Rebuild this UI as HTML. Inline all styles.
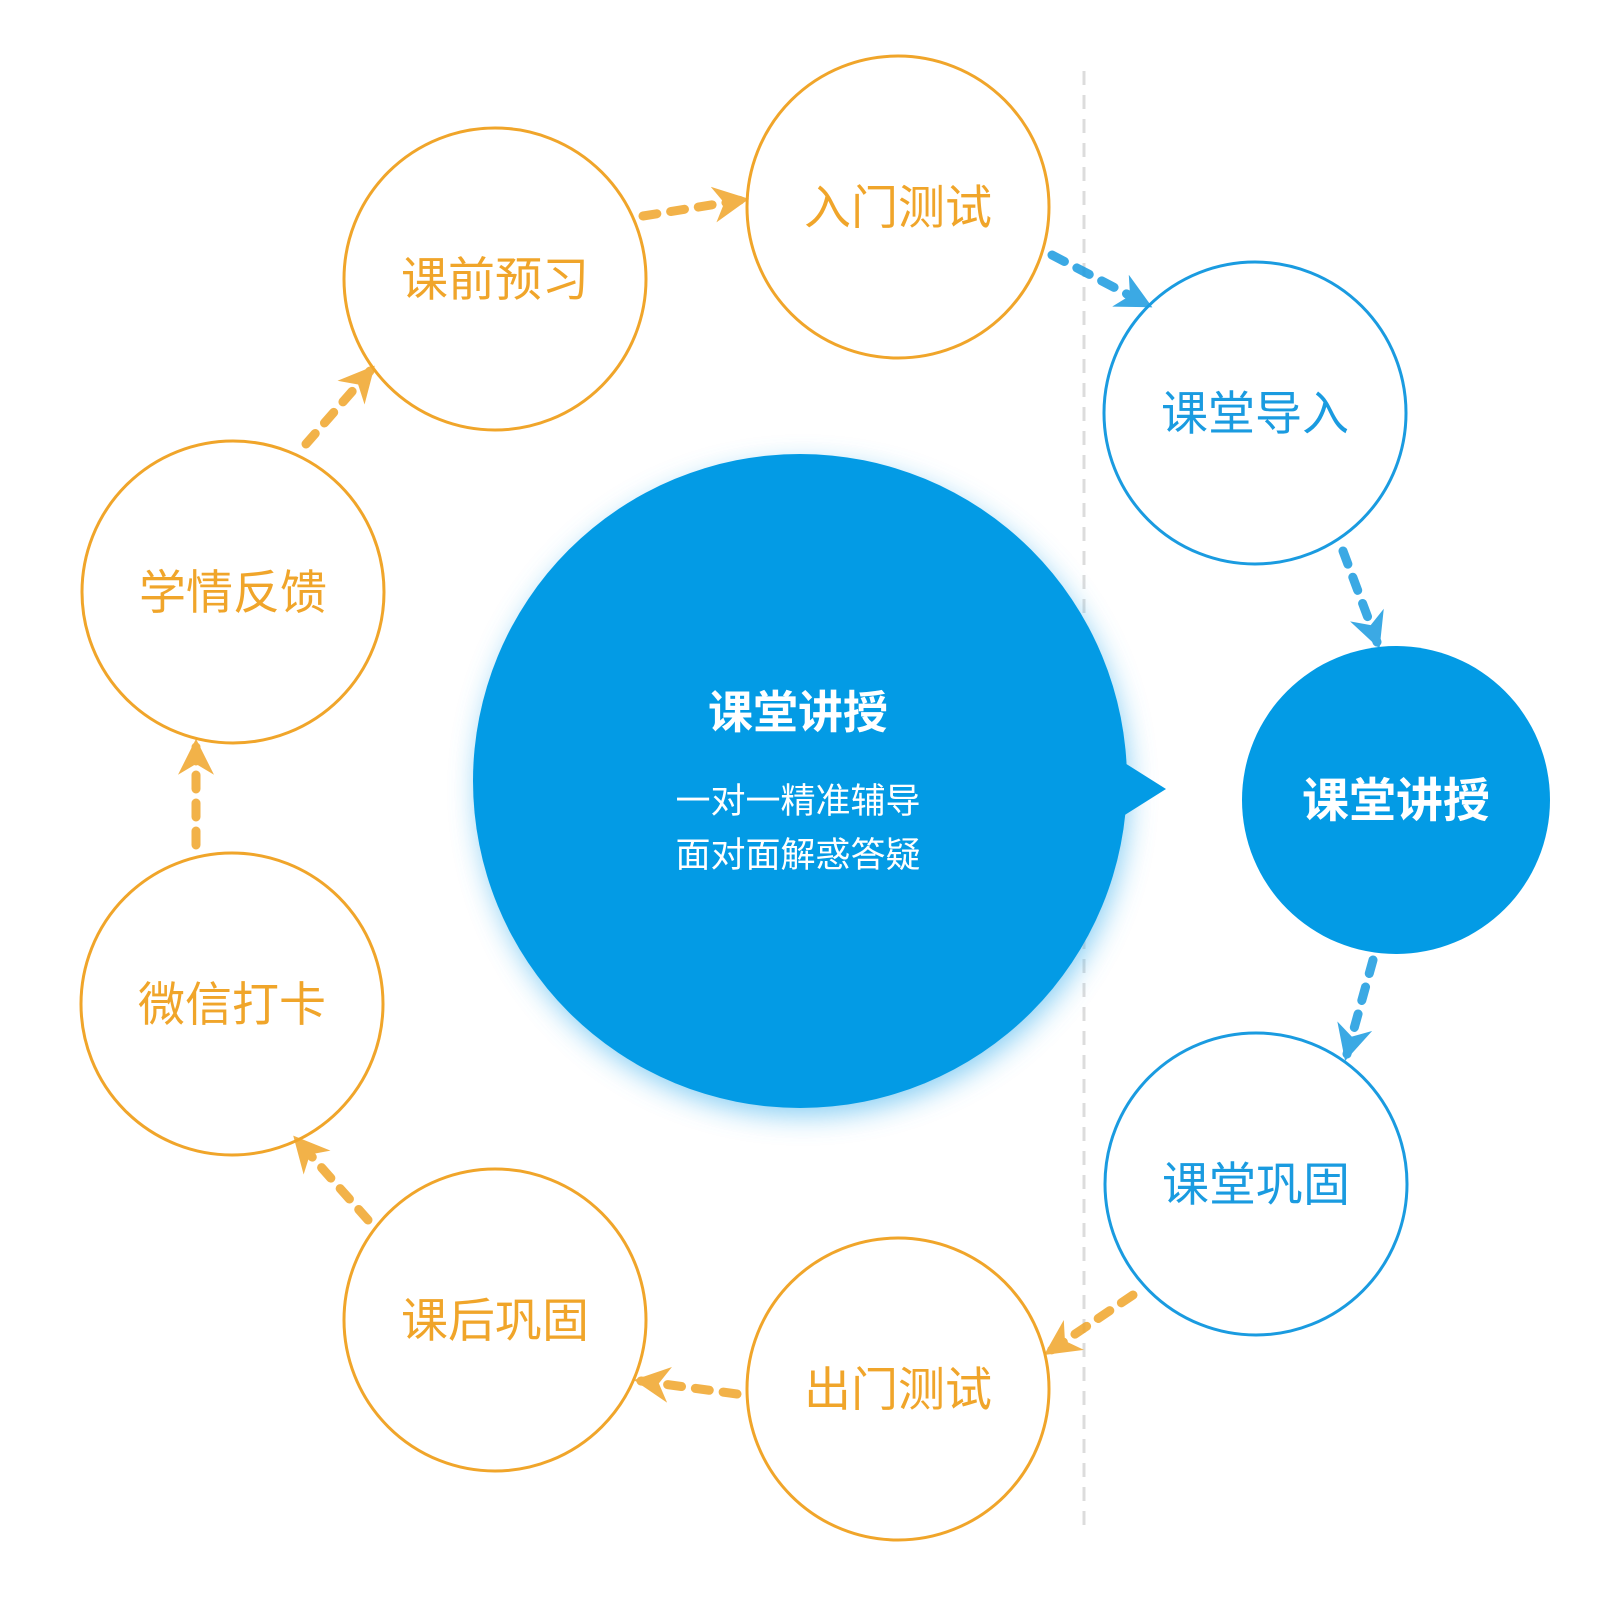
<!DOCTYPE html>
<html><head><meta charset="utf-8"><style>
html,body{margin:0;padding:0;background:#fff;width:1600px;height:1600px;overflow:hidden}
svg text{font-family:"Liberation Sans","Noto Sans CJK SC",sans-serif}
</style></head><body>
<svg width="1600" height="1600" viewBox="0 0 1600 1600" xmlns="http://www.w3.org/2000/svg">
<defs>
<filter id="glow" x="-20%" y="-20%" width="140%" height="140%"><feGaussianBlur stdDeviation="14"/></filter>
<marker id="ho" viewBox="0 0 10 10" refX="8" refY="5" markerWidth="4" markerHeight="4" orient="auto" markerUnits="strokeWidth"><path d="M0,0 L10,5 L0,10 L3,5 z" fill="#f0a52a"/></marker>
<marker id="hb" viewBox="0 0 10 10" refX="8" refY="5" markerWidth="4" markerHeight="4" orient="auto" markerUnits="strokeWidth"><path d="M0,0 L10,5 L0,10 L3,5 z" fill="#1a9be0"/></marker>
</defs>
<line x1="1084" y1="71" x2="1084" y2="1526" stroke="#dcdcdc" stroke-width="3" stroke-dasharray="14,10"/>
<circle cx="803" cy="790" r="325" fill="#4fb8ef" opacity="0.7" filter="url(#glow)"/>
<circle cx="800" cy="781" r="327" fill="#039be5"/>
<path d="M1120,760 L1166,789 L1120,818 z" fill="#039be5"/>
<text x="798" y="728" font-size="45" font-weight="bold" fill="#fff" text-anchor="middle">课堂讲授</text>
<text x="798" y="813" font-size="35" fill="#fff" text-anchor="middle">一对一精准辅导</text>
<text x="798" y="867" font-size="35" fill="#fff" text-anchor="middle">面对面解惑答疑</text>
<g fill="none" stroke="#f0a52a" stroke-width="3">
<circle cx="495" cy="279" r="151"/><circle cx="898" cy="207" r="151"/>
<circle cx="233" cy="592" r="151"/><circle cx="232" cy="1004" r="151"/>
<circle cx="495" cy="1320" r="151"/><circle cx="898" cy="1389" r="151"/>
</g>
<g fill="none" stroke="#1a9be0" stroke-width="3">
<circle cx="1255" cy="413" r="151"/><circle cx="1256" cy="1184" r="151"/>
</g>
<circle cx="1396" cy="800" r="154" fill="#039be5"/>
<g font-size="47" fill="#f0a52a" text-anchor="middle">
<text x="495" y="296">课前预习</text><text x="898" y="224">入门测试</text>
<text x="233" y="609">学情反馈</text><text x="232" y="1021">微信打卡</text>
<text x="495" y="1337">课后巩固</text><text x="898" y="1406">出门测试</text>
</g>
<g font-size="47" fill="#1a9be0" text-anchor="middle">
<text x="1255" y="430">课堂导入</text><text x="1256" y="1201">课堂巩固</text>
</g>
<text x="1396" y="817" font-size="47" font-weight="bold" fill="#fff" text-anchor="middle">课堂讲授</text>
<g stroke-width="9" stroke-linecap="round" stroke-dasharray="14,14" fill="none">
<line x1="306" y1="444" x2="370" y2="371" stroke="#f0a52a" marker-end="url(#ho)" opacity="0.85"/>
<line x1="643" y1="216" x2="742" y2="200" stroke="#f0a52a" marker-end="url(#ho)" opacity="0.85"/>
<line x1="1052" y1="255" x2="1146" y2="304" stroke="#1a9be0" marker-end="url(#hb)" opacity="0.85"/>
<line x1="1343" y1="551" x2="1377" y2="642" stroke="#1a9be0" marker-end="url(#hb)" opacity="0.85"/>
<line x1="1373" y1="960" x2="1347" y2="1054" stroke="#1a9be0" marker-end="url(#hb)" opacity="0.85"/>
<line x1="1133" y1="1295" x2="1050" y2="1351" stroke="#f0a52a" marker-end="url(#ho)" opacity="0.85"/>
<line x1="737" y1="1394" x2="641" y2="1381" stroke="#f0a52a" marker-end="url(#ho)" opacity="0.85"/>
<line x1="368" y1="1220" x2="298" y2="1141" stroke="#f0a52a" marker-end="url(#ho)" opacity="0.85"/>
<line x1="196" y1="845" x2="196" y2="746" stroke="#f0a52a" marker-end="url(#ho)" opacity="0.85"/>
</g>
</svg>
</body></html>
